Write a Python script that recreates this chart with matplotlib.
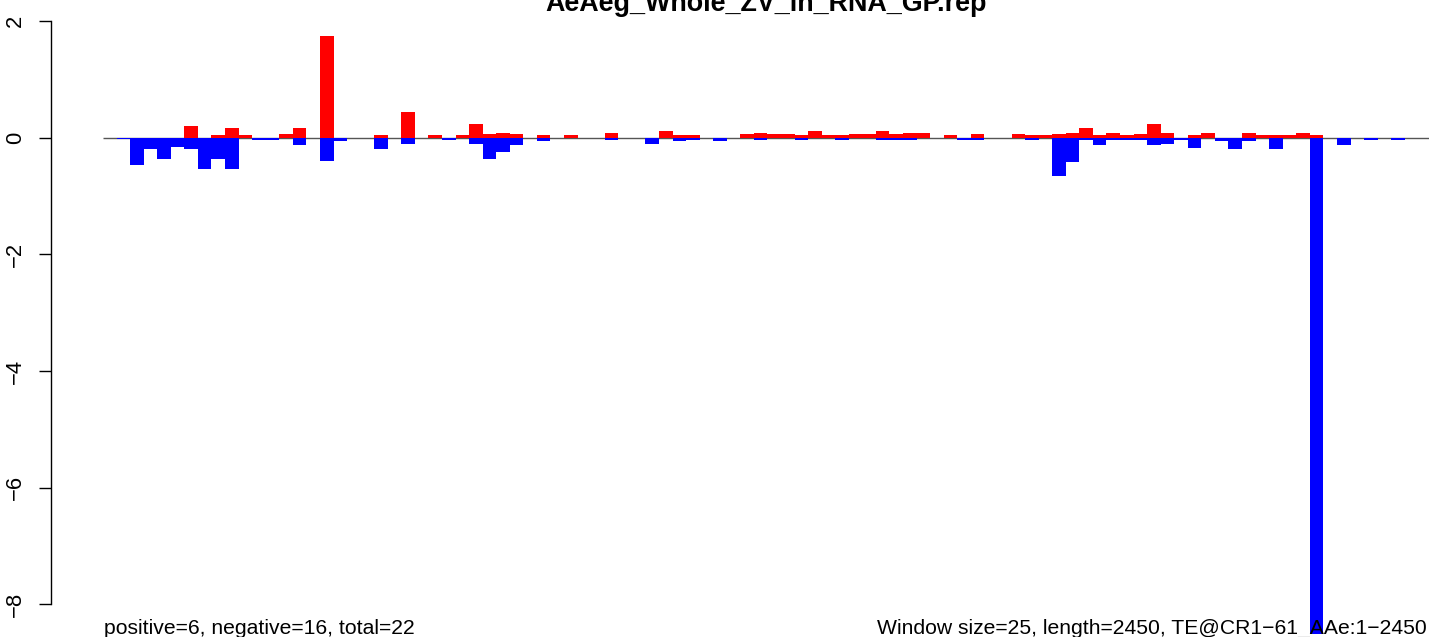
import matplotlib
matplotlib.use("Agg")
import matplotlib.pyplot as plt
import numpy as np

plt.rcParams["font.family"] = ["Liberation Sans", "DejaVu Sans"]

title = "AeAeg_Whole_ZV_in_RNA_GP.rep"
window_size = 25
seq_length = 2450
left_note = "positive=6, negative=16, total=22"
right_note = "Window size=25, length=2450, TE@CR1\u221261_AAe:1\u22122450"

# Werte pro Fenster (98 Fenster a 25 bp)
pos_values = [
    0, 0, 0, 0, 0, 0, 0.195, 0, 0.04, 0.16,
    0.04, 0, 0, 0.065, 0.16, 0, 1.74, 0, 0, 0,
    0.04, 0, 0.45, 0, 0.04, 0, 0.04, 0.23, 0.057, 0.09,
    0.06, 0, 0.04, 0, 0.04, 0, 0, 0.09, 0, 0,
    0, 0.125, 0.04, 0.04, 0, 0, 0, 0.06, 0.09, 0.06,
    0.06, 0.04, 0.125, 0.04, 0.04, 0.06, 0.06, 0.125, 0.06, 0.09,
    0.09, 0, 0.04, 0, 0.06, 0, 0, 0.06, 0.04, 0.04,
    0.06, 0.09, 0.16, 0.04, 0.09, 0.04, 0.06, 0.23, 0.09, 0,
    0.04, 0.09, 0, 0, 0.09, 0.04, 0.04, 0.04, 0.09, 0.04,
    0, 0, 0, 0, 0, 0, 0, 0,
]
neg_values = [
    0, -0.023, -0.46, -0.2, -0.355, -0.16, -0.2, -0.54, -0.355, -0.54,
    0, -0.03, -0.03, 0, -0.13, 0, -0.39, -0.06, 0, 0,
    -0.2, 0, -0.1, 0, 0, -0.03, 0, -0.1, -0.355, -0.235,
    -0.13, 0, -0.06, 0, 0, 0, 0, -0.03, 0, 0,
    -0.1, 0, -0.06, -0.03, 0, -0.06, 0, 0, -0.03, 0,
    0, -0.03, 0, 0, -0.03, 0, 0, -0.03, -0.03, -0.03,
    0, 0, 0, -0.03, -0.03, 0, 0, 0, -0.03, 0,
    -0.65, -0.42, -0.03, -0.13, -0.03, -0.03, -0.03, -0.13, -0.1, -0.03,
    -0.17, 0, -0.06, -0.2, -0.06, 0, -0.2, 0, 0, -8.51,
    0, -0.13, 0, -0.03, 0, -0.03, 0, 0,
]
y_ticks = [-8, -6, -4, -2, 0, 2]

W, H = 1429, 637
fig = plt.figure(figsize=(W / 100, H / 100), dpi=100)
ax = fig.add_axes([0, 0, 1, 1])

starts = np.arange(len(pos_values)) * window_size

# Nulllinie unter den Balken
ax.hlines(0, 0, seq_length, color="#555555", linewidth=1, zorder=1)
ax.bar(starts, pos_values, width=window_size, align="edge",
       color="#ff0000", linewidth=0, zorder=2)
ax.bar(starts, neg_values, width=window_size, align="edge",
       color="#0000ff", linewidth=0, zorder=3)

# Pixel-Abbildung wie im Original
px_per_bp = 13.56 / window_size
x0_px = 103.0
ax.set_xlim(-x0_px / px_per_bp, (W - x0_px) / px_per_bp)
zero_px, px_per_unit = 137.8, 58.33
ax.set_ylim(-(H - zero_px) / px_per_unit, zero_px / px_per_unit)

for side in ["top", "right", "bottom"]:
    ax.spines[side].set_visible(False)
ax.spines["left"].set_position(("axes", 50.7 / W))
ax.spines["left"].set_bounds(-8, 2)
ax.spines["left"].set_linewidth(1.0)
ax.set_xticks([])
ax.set_yticks(y_ticks)
ax.set_yticklabels([str(t).replace("-", "\u2212") for t in y_ticks],
                   rotation=90, va="center", fontsize=15.84)
ax.tick_params(axis="y", length=8.9, width=1.0, pad=9)
ax.patch.set_visible(False)

fig.text(766 / W, 1 - 11 / H, title, ha="center", va="baseline",
         fontsize=19.4, fontweight="bold")
fig.text(104 / W, 1 - 634 / H, left_note, ha="left", va="baseline",
         fontsize=15.25, zorder=0)
fig.text(877 / W, 1 - 634 / H, right_note, ha="left", va="baseline",
         fontsize=15.25, zorder=0)

fig.savefig("out.png", dpi=100)
plt.close(fig)
